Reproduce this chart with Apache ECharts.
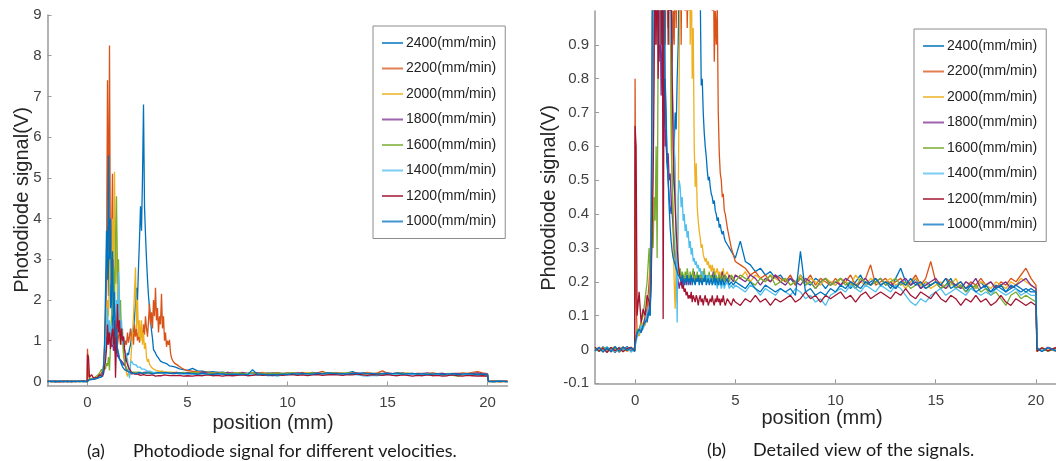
<!DOCTYPE html>
<html><head><meta charset="utf-8">
<script src="https://cdn.jsdelivr.net/npm/echarts@6/dist/echarts.min.js"></script>
<style>html,body{margin:0;padding:0;background:#fff}#c{width:1056px;height:461px}</style>
</head><body><div id="c"></div>
<script>
// ---------------- data ----------------
const seriesNames = ['2400(mm/min)','2200(mm/min)','2000(mm/min)','1800(mm/min)','1600(mm/min)','1400(mm/min)','1200(mm/min)','1000(mm/min)'];
const xTicks = [0,5,10,15,20];
const yTicksA = [0,1,2,3,4,5,6,7,8,9];
const yTicksB = [-0.1,0,0.1,0.2,0.3,0.4,0.5,0.6,0.7,0.8,0.9];
const captionA = ['(a)','Photodiode signal for different velocities.'];
const captionB = ['(b)','Detailed view of the signals.'];

const positions = [
 -2.0,-1.8,-1.6,-1.4,-1.2,-1.0,-0.8,-0.6,-0.4,-0.2,-0.02,
 0.0,0.05,0.1,0.2,0.3,0.4,0.5,0.6,0.7,
 0.75,0.8,0.85,0.9,0.95,1.0,1.05,1.1,1.15,1.2,
 1.25,1.3,1.35,1.4,1.45,1.5,1.55,1.6,1.65,1.7,
 1.75,1.8,1.85,1.9,1.95,2.0,2.05,2.1,2.15,2.2,
 2.25,2.3,2.35,2.4,2.45,2.5,2.55,2.6,2.65,2.7,
 2.75,2.8,2.85,2.9,2.95,3.0,3.05,3.1,3.15,3.2,
 3.25,3.3,3.35,3.4,3.45,3.5,3.55,3.6,3.65,3.7,
 3.75,3.8,3.85,3.9,3.95,4.0,4.05,4.1,4.15,4.2,
 4.25,4.3,4.35,4.4,4.45,4.5,4.6,4.7,4.8,4.9,
 5.0,5.25,5.5,5.75,6.0,6.25,6.5,6.75,7.0,7.25,
 7.5,7.75,8.0,8.25,8.5,8.75,9.0,9.25,9.5,9.75,
 10.0,10.25,10.5,10.75,11.0,11.25,11.5,11.75,12.0,12.25,
 12.5,12.75,13.0,13.25,13.5,13.75,14.0,14.25,14.5,14.75,
 15.0,15.25,15.5,15.75,16.0,16.25,16.5,16.75,17.0,17.25,
 17.5,17.75,18.0,18.25,18.5,18.75,19.0,19.25,19.5,19.75,
 20.0,20.05,20.3,20.6,21.0
];

const v2400 = [
 0.004,-0.006,0.008,-0.003,0.006,-0.009,0.005,-0.004,0.009,-0.007,0.003,
 0.02,0.04,0.05,0.04,0.07,0.06,0.09,0.08,0.12,
 0.1,0.2,0.6,1.4,2.6,3.8,2.1,3.3,1.8,2.4,
 1.2,1.6,0.9,1.1,0.7,0.8,0.6,0.55,0.5,0.45,
 0.42,0.4,0.45,0.5,0.6,0.7,0.65,0.8,0.9,1.1,
 1.3,1.2,1.6,1.9,2.3,2.0,2.8,3.5,4.3,3.7,
 5.0,6.8,4.3,3.6,3.0,2.5,2.1,1.8,1.5,1.25,
 1.05,0.78,0.8,0.7,0.64,0.6,0.57,0.53,0.5,0.51,
 0.48,0.46,0.45,0.43,0.44,0.41,0.4,0.38,0.39,0.36,
 0.37,0.35,0.34,0.35,0.33,0.32,0.31,0.3,0.29,0.28,
 0.27,0.32,0.26,0.25,0.23,0.24,0.22,0.23,0.21,0.22,
 0.2,0.21,0.19,0.22,0.2,0.19,0.21,0.2,0.18,0.2,
 0.19,0.21,0.2,0.18,0.2,0.22,0.19,0.2,0.21,0.19,
 0.2,0.18,0.21,0.24,0.2,0.19,0.21,0.18,0.2,0.19,
 0.2,0.18,0.19,0.21,0.18,0.19,0.17,0.19,0.18,0.2,
 0.18,0.17,0.19,0.18,0.17,0.19,0.18,0.17,0.18,0.17,
 0.17,0.003,-0.005,0.006,-0.004
];
const v2200 = [
 -0.005,0.007,-0.004,0.006,-0.008,0.004,-0.003,0.008,-0.006,0.005,-0.004,
 0.8,0.15,0.05,0.06,0.08,0.07,0.1,0.12,0.2,
 0.25,0.4,0.8,1.5,2.8,7.4,3.2,8.25,2.5,3.4,
 5.1,2.2,1.6,1.2,1.5,0.9,1.1,1.3,0.95,1.2,
 0.9,1.1,0.85,1.0,0.9,1.2,0.95,1.1,1.3,1.0,
 1.2,0.9,1.4,1.1,1.3,1.0,1.2,0.95,1.1,1.3,
 1.0,1.4,1.15,1.6,1.3,1.1,1.5,1.9,1.4,1.7,
 1.3,2.0,1.6,2.3,1.5,1.8,1.2,1.6,1.4,2.15,
 1.3,1.6,1.0,1.2,0.85,1.0,0.9,1.02,0.7,0.58,
 0.52,0.5,0.45,0.46,0.41,0.4,0.36,0.33,0.3,0.28,
 0.26,0.25,0.24,0.22,0.23,0.21,0.22,0.2,0.22,0.21,
 0.2,0.22,0.19,0.21,0.2,0.22,0.19,0.21,0.2,0.19,
 0.21,0.19,0.2,0.22,0.19,0.2,0.21,0.25,0.19,0.2,
 0.21,0.19,0.2,0.21,0.19,0.2,0.22,0.19,0.21,0.26,
 0.2,0.19,0.21,0.2,0.19,0.2,0.18,0.2,0.19,0.21,
 0.19,0.2,0.18,0.2,0.19,0.21,0.2,0.22,0.24,0.21,
 0.19,0.005,-0.004,0.003,-0.006
];
const v2000 = [
 0.006,-0.004,0.005,-0.007,0.003,0.008,-0.005,0.004,-0.006,0.007,-0.003,
 0.01,0.03,0.05,0.04,0.06,0.08,0.07,0.1,0.14,
 0.2,0.35,0.6,1.0,1.4,2.0,1.6,2.6,3.3,2.2,
 4.0,3.0,5.15,2.4,3.6,1.8,2.5,1.3,1.6,0.9,
 1.1,0.6,0.5,0.35,0.2,0.12,0.25,0.14,0.4,0.8,
 1.2,1.6,2.2,2.8,1.3,2.0,1.1,1.5,1.0,1.5,
 0.9,1.2,0.8,0.95,0.6,0.48,0.55,0.42,0.38,0.35,
 0.33,0.3,0.31,0.28,0.27,0.26,0.27,0.25,0.26,0.24,
 0.25,0.23,0.25,0.23,0.24,0.22,0.23,0.24,0.22,0.23,
 0.21,0.23,0.22,0.24,0.21,0.22,0.23,0.21,0.22,0.21,
 0.22,0.21,0.23,0.2,0.22,0.21,0.2,0.22,0.21,0.2,
 0.21,0.19,0.2,0.22,0.19,0.21,0.2,0.19,0.21,0.2,
 0.19,0.21,0.2,0.19,0.22,0.2,0.19,0.21,0.2,0.19,
 0.2,0.21,0.19,0.2,0.18,0.2,0.21,0.19,0.2,0.18,
 0.19,0.2,0.18,0.19,0.21,0.18,0.2,0.19,0.18,0.2,
 0.19,0.18,0.2,0.19,0.18,0.2,0.19,0.21,0.2,0.19,
 0.18,-0.004,0.006,-0.003,0.005
];
const v1800 = [
 -0.003,0.005,-0.007,0.004,-0.005,0.006,-0.008,0.003,0.005,-0.004,0.006,
 0.02,0.03,0.04,0.06,0.05,0.07,0.09,0.1,0.13,
 0.15,0.3,0.5,0.8,1.1,0.9,1.3,1.0,1.2,0.85,
 1.0,0.75,0.9,0.7,0.75,0.6,0.65,0.55,0.58,0.5,
 0.52,0.44,0.4,0.36,0.3,0.27,0.24,0.22,0.2,0.18,
 0.2,0.19,0.21,0.18,0.2,0.21,0.19,0.22,0.2,0.21,
 0.19,0.22,0.2,0.21,0.23,0.2,0.22,0.21,0.2,0.22,
 0.21,0.2,0.23,0.21,0.2,0.22,0.21,0.2,0.22,0.21,
 0.2,0.22,0.21,0.23,0.2,0.21,0.22,0.2,0.21,0.22,
 0.2,0.21,0.23,0.2,0.22,0.21,0.2,0.22,0.21,0.2,
 0.22,0.21,0.2,0.22,0.21,0.19,0.21,0.2,0.22,0.2,
 0.19,0.21,0.2,0.19,0.21,0.2,0.18,0.2,0.21,0.19,
 0.2,0.19,0.21,0.2,0.18,0.2,0.21,0.19,0.2,0.21,
 0.19,0.2,0.18,0.2,0.21,0.19,0.2,0.18,0.19,0.2,
 0.21,0.19,0.18,0.2,0.19,0.18,0.2,0.19,0.21,0.18,
 0.19,0.2,0.18,0.19,0.2,0.18,0.19,0.2,0.21,0.19,
 0.18,0.004,-0.005,0.006,-0.003
];
const v1600 = [
 0.005,-0.006,0.003,0.007,-0.004,0.005,-0.007,0.006,-0.003,0.004,-0.005,
 0.02,0.04,0.06,0.05,0.08,0.1,0.15,0.2,0.3,
 0.22,0.25,0.35,0.3,0.45,0.38,0.6,0.27,0.9,1.6,
 1.8,2.8,2.0,3.5,4.55,2.4,3.0,1.6,2.0,1.0,
 1.3,0.7,0.5,0.4,0.32,0.28,0.25,0.23,0.25,0.22,
 0.24,0.21,0.23,0.22,0.2,0.23,0.21,0.24,0.22,0.2,
 0.23,0.21,0.22,0.24,0.2,0.22,0.21,0.23,0.2,0.22,
 0.21,0.23,0.2,0.22,0.24,0.21,0.2,0.22,0.21,0.23,
 0.2,0.22,0.21,0.2,0.23,0.21,0.22,0.2,0.21,0.22,
 0.21,0.2,0.22,0.21,0.2,0.22,0.21,0.2,0.22,0.21,
 0.2,0.22,0.21,0.2,0.19,0.21,0.2,0.22,0.19,0.2,
 0.21,0.19,0.2,0.21,0.19,0.2,0.18,0.2,0.21,0.19,
 0.2,0.21,0.19,0.2,0.18,0.21,0.2,0.19,0.2,0.21,
 0.19,0.2,0.21,0.19,0.2,0.18,0.19,0.2,0.18,0.19,
 0.2,0.18,0.19,0.2,0.18,0.19,0.17,0.18,0.19,0.17,
 0.18,0.16,0.17,0.15,0.13,0.16,0.17,0.15,0.16,0.15,
 0.14,-0.005,0.004,-0.006,0.003
];
const v1400 = [
 -0.006,0.004,-0.005,0.008,-0.003,-0.006,0.007,-0.004,0.006,-0.008,0.004,
 0.01,0.02,0.04,0.05,0.07,0.06,0.08,0.11,0.13,
 0.15,0.25,0.5,0.9,1.3,1.8,1.2,1.5,1.0,1.4,
 0.9,1.2,1.6,1.1,2.0,1.4,2.7,1.8,1.2,1.5,
 0.9,1.1,0.8,0.7,0.6,0.55,0.3,0.08,0.45,0.5,
 0.48,0.42,0.45,0.38,0.4,0.35,0.37,0.33,0.35,0.3,
 0.32,0.28,0.3,0.26,0.27,0.25,0.26,0.24,0.25,0.23,
 0.24,0.22,0.23,0.21,0.22,0.2,0.22,0.21,0.2,0.22,
 0.2,0.21,0.19,0.2,0.21,0.19,0.2,0.18,0.2,0.19,
 0.2,0.18,0.19,0.2,0.18,0.19,0.2,0.18,0.19,0.18,
 0.19,0.18,0.17,0.19,0.18,0.16,0.18,0.17,0.16,0.18,
 0.17,0.16,0.18,0.17,0.15,0.16,0.14,0.15,0.13,0.16,
 0.17,0.18,0.17,0.19,0.18,0.17,0.19,0.18,0.17,0.19,
 0.18,0.17,0.19,0.18,0.16,0.14,0.13,0.15,0.14,0.16,
 0.17,0.18,0.16,0.17,0.18,0.17,0.16,0.18,0.17,0.16,
 0.17,0.16,0.18,0.17,0.16,0.17,0.18,0.16,0.17,0.16,
 0.16,0.006,-0.004,0.005,-0.005
];
const v1200 = [
 0.007,-0.005,0.004,-0.009,0.006,-0.004,0.005,-0.007,0.003,0.006,-0.005,
 0.66,0.6,0.1,0.17,0.08,0.12,0.1,0.16,0.14,
 0.12,0.2,0.35,0.5,0.8,1.4,0.9,1.2,0.8,1.1,
 1.3,0.9,1.5,0.09,1.0,1.9,1.2,1.5,0.9,1.3,
 1.0,1.1,0.8,0.6,0.5,0.42,0.35,0.3,0.26,0.23,
 0.21,0.2,0.18,0.19,0.17,0.18,0.16,0.17,0.15,0.16,
 0.15,0.17,0.14,0.16,0.15,0.14,0.16,0.15,0.13,0.15,
 0.16,0.14,0.15,0.13,0.15,0.16,0.14,0.15,0.13,0.14,
 0.15,0.14,0.16,0.14,0.13,0.15,0.14,0.16,0.14,0.15,
 0.13,0.15,0.14,0.16,0.14,0.13,0.15,0.14,0.13,0.15,
 0.14,0.13,0.15,0.14,0.16,0.14,0.15,0.13,0.15,0.14,
 0.15,0.16,0.14,0.15,0.17,0.15,0.16,0.14,0.16,0.15,
 0.16,0.17,0.15,0.16,0.14,0.16,0.17,0.15,0.16,0.17,
 0.16,0.15,0.17,0.16,0.18,0.16,0.15,0.17,0.16,0.15,
 0.17,0.15,0.14,0.16,0.15,0.13,0.15,0.14,0.16,0.14,
 0.15,0.13,0.14,0.16,0.14,0.13,0.15,0.14,0.13,0.14,
 0.13,-0.006,0.005,-0.004,0.006
];
const v1000 = [
 -0.004,0.006,-0.008,0.005,-0.006,0.009,-0.005,0.007,-0.003,0.005,-0.006,
 0.02,0.03,0.05,0.06,0.05,0.07,0.08,0.09,0.11,
 0.1,0.3,0.9,2.2,3.7,2.5,5.55,3.0,4.0,2.0,
 3.2,1.5,2.2,1.1,1.3,0.8,0.7,0.55,0.5,0.42,
 0.36,0.32,0.29,0.27,0.26,0.25,0.24,0.23,0.22,0.22,
 0.21,0.2,0.22,0.21,0.19,0.21,0.2,0.22,0.19,0.21,
 0.2,0.22,0.19,0.21,0.2,0.19,0.21,0.2,0.22,0.19,
 0.21,0.2,0.19,0.21,0.2,0.22,0.19,0.2,0.21,0.19,
 0.2,0.21,0.19,0.2,0.22,0.19,0.21,0.2,0.19,0.21,
 0.2,0.19,0.21,0.2,0.19,0.2,0.21,0.19,0.2,0.19,
 0.2,0.19,0.18,0.2,0.18,0.17,0.19,0.18,0.17,0.18,
 0.17,0.18,0.16,0.29,0.17,0.18,0.16,0.17,0.16,0.18,
 0.17,0.19,0.18,0.2,0.19,0.18,0.2,0.19,0.21,0.19,
 0.2,0.19,0.18,0.2,0.19,0.21,0.19,0.2,0.18,0.19,
 0.2,0.19,0.21,0.18,0.19,0.2,0.18,0.19,0.17,0.18,
 0.19,0.17,0.18,0.19,0.17,0.18,0.19,0.18,0.17,0.18,
 0.17,0.004,-0.006,0.005,-0.004
];
const seriesValues = [v2400,v2200,v2000,v1800,v1600,v1400,v1200,v1000];

// ---------------- style ----------------
const colors = ['#0072BD','#D95319','#EDB120','#7E2F8E','#77AC30','#4DBEEE','#A2142F','#0072BD'];
const axisGray = '#9a9a9a';
const labelGray = '#404040';
const tickFont = "'Liberation Sans', Arial, Helvetica, sans-serif";
const capFont = "Lato, 'Open Sans', sans-serif";

function xAxisCfg(grid){
  return {type:'value', gridIndex:grid, min:-2, max:21,
    axisLine:{show:true, onZero:false, lineStyle:{color:axisGray, width:1.5}},
    axisTick:{show:true, inside:true, length:4, customValues:xTicks, lineStyle:{color:axisGray}},
    axisLabel:{customValues:xTicks, color:labelGray, fontSize:15, fontFamily:tickFont, margin:10},
    splitLine:{show:false}};
}
function yAxisCfg(grid, min, max, ticks){
  return {type:'value', gridIndex:grid, min:min, max:max,
    axisLine:{show:true, onZero:false, lineStyle:{color:axisGray, width:1.5}},
    axisTick:{show:true, inside:true, length:4, customValues:ticks, lineStyle:{color:axisGray}},
    axisLabel:{customValues:ticks, color:labelGray, fontSize:15, fontFamily:tickFont, margin:6},
    splitLine:{show:false}};
}

const series = [];
[0,1].forEach(g => {
  seriesNames.forEach((name, k) => {
    series.push({
      name: name, type:'line', xAxisIndex:g, yAxisIndex:g,
      data: positions.map((x,i) => [x, seriesValues[k][i]]),
      symbol:'none', showSymbol:false, clip:true,
      lineStyle:{color:colors[k], width:1.3},
      itemStyle:{color:colors[k]},
      emphasis:{disabled:true}
    });
  });
});

function legendCfg(left, top){
  return {data:seriesNames, orient:'vertical', left:left, top:top,
    padding:[10,9,10,9], icon:'rect', itemWidth:21, itemHeight:2, itemGap:11.5,
    itemStyle:{opacity:0.75},
    borderColor:'#8c8c8c', borderWidth:1, backgroundColor:'#fff',
    selectedMode:false,
    textStyle:{fontSize:14, lineHeight:14, color:'#222', fontFamily:tickFont, padding:[0,0,0,-2]}};
}

function txt(x, y, s, size, font, rot){
  return {type:'text', x:x, y:y, rotation:rot||0,
    style:{text:s, fontSize:size, fontFamily:font, fill:'#262626', textAlign:'center', textVerticalAlign:'middle'}};
}
function capt(x, y, s){
  return {type:'text', x:x, y:y,
    style:{text:s, fontSize:18, fontFamily:capFont, fill:'#1a1a1a', textAlign:'left', textVerticalAlign:'middle'}};
}

const chart = echarts.init(document.getElementById('c'), null, {renderer:'canvas'});
chart.setOption({
  animation:false,
  backgroundColor:'#fff',
  grid:[
    {left:47.5, top:15, width:460, height:370.5},
    {left:595, top:11, width:463.5, height:372.3}
  ],
  xAxis:[xAxisCfg(0), xAxisCfg(1)],
  yAxis:[yAxisCfg(0,-0.1,9,yTicksA), yAxisCfg(1,-0.1,1,yTicksB)],
  legend:[legendCfg(373,26), legendCfg(914,29)],
  series:series,
  graphic:[
    txt(22, 200, 'Photodiode signal(V)', 20, tickFont, Math.PI/2),
    txt(549, 198, 'Photodiode signal(V)', 20, tickFont, Math.PI/2),
    txt(273, 423, 'position (mm)', 20, tickFont),
    txt(822, 418, 'position (mm)', 20, tickFont),
    capt(87, 451, captionA[0]),
    capt(133, 451, captionA[1]),
    capt(707, 450, captionB[0]),
    capt(753, 450, captionB[1])
  ]
});
</script>
</body></html>
